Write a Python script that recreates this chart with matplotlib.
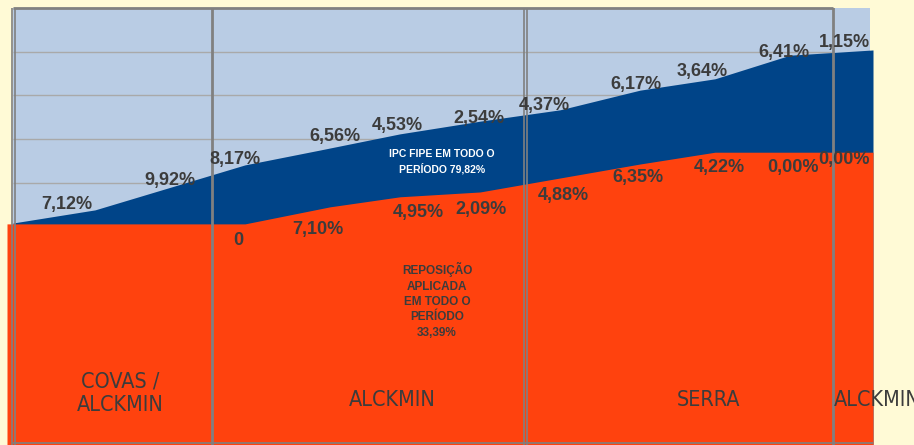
import matplotlib
matplotlib.use("Agg")
import matplotlib.pyplot as plt
from matplotlib import font_manager

# ---- data (x in chart units across the period, y in cumulative index units 0-100) ----
ipc_x = [13, 95, 245, 320, 400, 480, 560, 640, 715, 790, 873]
ipc_top = [50.8, 53.8, 64.1, 67.5, 71.2, 74.1, 76.7, 81.2, 83.8, 89.2, 90.4]

rep_x = [7, 245, 330, 400, 480, 640, 715, 873]
rep_top = [50.6, 50.6, 54.5, 56.8, 57.9, 64.3, 67.0, 67.0]

ipc_labels = ["7,12%", "9,92%", "8,17%", "6,56%", "4,53%", "2,54%",
              "4,37%", "6,17%", "3,64%", "6,41%", "1,15%"]
ipc_label_x = [67, 170, 235, 335, 397, 479, 544, 636, 702, 784, 844]
ipc_label_y = [55.1, 60.6, 65.4, 70.5, 73.2, 74.8, 77.6, 82.4, 85.4, 89.9, 92.0]

rep_labels = ["0", "7,10%", "4,95%", "2,09%", "4,88%", "6,35%",
              "4,22%", "0,00%", "0,00%"]
rep_label_x = [238, 318, 418, 481, 563, 638, 719, 793, 844]
rep_label_y = [46.9, 49.4, 53.3, 54.0, 57.0, 61.3, 63.4, 63.4, 65.4]

gov_dividers = [212, 833]
gov_double_dividers = [13, 525]
gov_names = ["COVAS /\nALCKMIN", "ALCKMIN", "SERRA", "ALCKMIN"]
gov_x = [120, 392, 708, 834]
gov_y = [11.8, 10.3, 10.3, 10.3]
gov_ha = ["center", "center", "center", "left"]

gridlines = [60, 70, 80, 90]

# ---- colours ----
BG = "#FFFAD6"
LIGHT = "#B9CCE4"
DARKBLUE = "#004488"
ORANGE = "#FF420E"
GRAY = "#808080"
TXT = "#3C3C3C"

GOV_SIZE = 15.5

# pick a narrow font for the government names if available
available = {f.name for f in font_manager.fontManager.ttflist}
condensed_files = [f for f in font_manager.fontManager.ttflist
                   if "condensed" in str(f.stretch).lower() or "Narrow" in f.name
                   or "Condensed" in f.fname]
gov_kwargs = dict(fontsize=GOV_SIZE)
if "Liberation Sans Narrow" in available:
    gov_kwargs["family"] = "Liberation Sans Narrow"
else:
    cand = [f for f in condensed_files if "Bold" not in f.fname and "Oblique" not in f.fname
            and "Italic" not in f.fname]
    if cand:
        gov_kwargs["fontproperties"] = font_manager.FontProperties(fname=cand[0].fname,
                                                                   size=GOV_SIZE)
        gov_kwargs.pop("fontsize")
    else:
        gov_kwargs["family"] = "Liberation Sans"
        gov_kwargs["fontsize"] = 14

fig = plt.figure(figsize=(9.14, 4.45), dpi=100, facecolor=BG)
ax = fig.add_axes([7 / 914, 0, 866 / 914, 437 / 445])
ax.set_xlim(7, 873)
ax.set_ylim(0, 100)
ax.set_facecolor(BG)
for s in ax.spines.values():
    s.set_visible(False)
ax.set_xticks([])
ax.set_yticks([])

ax.axvspan(13, 870, color=LIGHT, zorder=0, lw=0)
ax.hlines(gridlines, 13, 833, color="#A9A9A9", lw=1, zorder=1)

ax.fill_between(ipc_x, 0, ipc_top, color=DARKBLUE, lw=0, zorder=2)
ax.fill_between(rep_x, 0, rep_top, color=ORANGE, lw=0, zorder=3)

# dividers and frame
for x in gov_dividers:
    ax.axvline(x, color=GRAY, lw=2, zorder=4)
for x in gov_double_dividers:
    ax.axvline(x - 1.2, color=GRAY, lw=1.2, zorder=4)
    ax.axvline(x + 1.5, color=GRAY, lw=1.2, zorder=4)
ax.hlines(100, 13, 833, color=GRAY, lw=2, zorder=4, clip_on=False)
ax.hlines(0.4, 13, 873, color=GRAY, lw=1.2, zorder=4)

font = "Liberation Sans"
for t, x, y in zip(ipc_labels, ipc_label_x, ipc_label_y):
    ax.text(x, y, t, ha="center", va="center", fontsize=13, fontweight="bold",
            color=TXT, family=font, zorder=5)
for t, x, y in zip(rep_labels, rep_label_x, rep_label_y):
    ax.text(x, y, t, ha="center", va="center", fontsize=13, fontweight="bold",
            color=TXT, family=font, zorder=5)

ax.text(442, 64.9, "IPC FIPE EM TODO O\nPERÍODO 79,82%", ha="center", va="center",
        fontsize=7.5, fontweight="bold", color="white", family=font,
        linespacing=1.44, zorder=5)
ax.text(437, 33.1, "REPOSIÇÃO\nAPLICADA\nEM TODO O\nPERÍODO\n33,39%", ha="center",
        va="center", fontsize=8.5, fontweight="bold", color=TXT, family=font,
        linespacing=1.37, zorder=5)

for t, x, y, ha in zip(gov_names, gov_x, gov_y, gov_ha):
    ax.text(x, y, t, ha=ha, va="center", color=TXT, linespacing=1.2, zorder=5,
            **gov_kwargs)

fig.savefig("out.png", dpi=100, facecolor=BG)
